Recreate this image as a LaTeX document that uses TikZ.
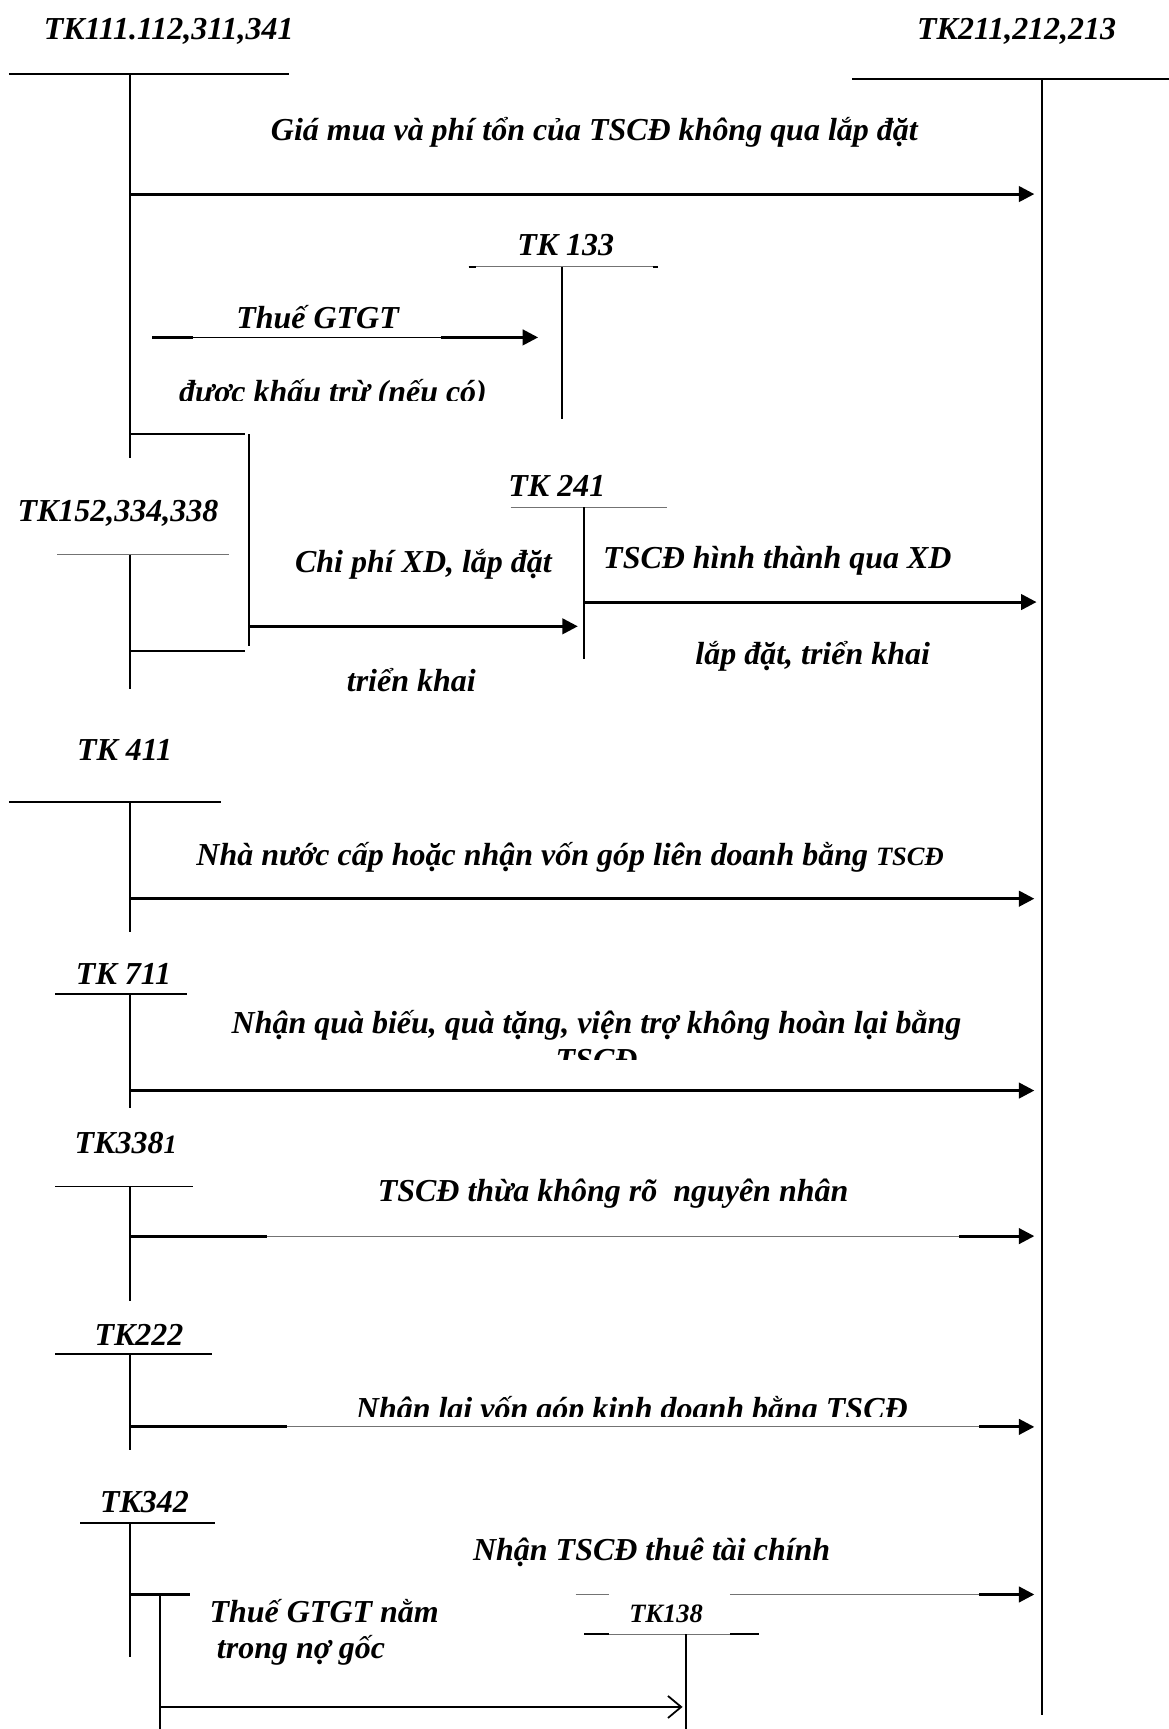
\documentclass[tikz,border=0pt]{standalone}
\usepackage{fontspec}
\setmainfont{Liberation Serif}
\usetikzlibrary{arrows.meta,positioning}

\tikzset{
  lbl/.style={font=\fontsize{14.5}{17}\selectfont\bfseries\itshape, anchor=base, inner sep=0pt},
  lblsmall/.style={lbl, font=\fontsize{12}{14}\selectfont\bfseries\itshape},
  tline/.style={line width=0.9pt},
  hair/.style={line width=0.45pt, black!55},
  flow/.style={line width=1.3pt, -{Triangle[length=7pt,width=7pt]}},
  openflow/.style={line width=1.1pt, -{Straight Barb[length=6pt,width=10pt,line width=0.8pt]}}
}

\begin{document}
\begin{tikzpicture}[x=0.5pt,y=-0.5pt]
    \useasboundingbox (0,0) rectangle (1060,1568);

    % main accounts
    \node[lbl] (n111) at (153,36) {TK111.112,311,341};
    \draw[tline] (8,67) -- (262,67);
    \draw[tline] (118,67) -- (118,415);
    \node[lbl] (n211) at (922,36) {TK211,212,213};
    \draw[tline] (773,72) -- (1060,72);
    \draw[tline] (945,72) -- (945,1555);

    \coordinate (a1s) at (118,176);
    \coordinate (a1e) at (938,176);
    \draw[flow] (a1s) -- (a1e);
    \node[lbl] (g1) at (539,127) {Giá mua và phí tổn của TSCĐ không qua lắp đặt};

    % TK 133
    \node[lbl] (n133) at (513,232) {TK 133};
    \draw[hair] (425,242) -- (597,242);
    \draw[tline] (425,242) -- (432,242) (592,242) -- (597,242);
    \draw[tline] (510,242) -- (510,380);
    \coordinate (a2s) at (138,306);
    \coordinate (a2m) at (400,306);
    \coordinate (a2e) at (488,306);
    \draw[hair,black] (a2s) -- (a2m);
    \draw[line width=1.3pt] (a2s) -- (175,306);
    \draw[flow] (a2m) -- (a2e);
    \node[lbl] (vat1) at (288,298) {Thuế GTGT};
    \begin{scope}
      \clip (100,330) rectangle (520,363);
      \node[lbl] (vat1b) at (302,365) {được khấu trừ (nếu có)};
    \end{scope}

    % TK152 and TK 241
    \draw[tline] (118,394) -- (222,394);
    \draw[tline] (226,394) -- (226,586);
    \draw[tline] (118,590) -- (222,590);
    \node[lbl] (n152) at (107,473) {TK152,334,338};
    \draw[hair] (52,503) -- (208,503);
    \draw[tline] (118,503) -- (118,625);
    \node[lbl] (n241) at (505,450) {TK 241};
    \draw[hair] (463,460) -- (605,460);
    \draw[tline] (530,460) -- (530,598);
    \coordinate (a3s) at (226,568);
    \coordinate (a3e) at (524,568);
    \draw[flow] (a3s) -- (a3e);
    \node[lbl] (c1) at (384,519) {Chi phí XD, lắp đặt};
    \node[lbl] (c2) at (373,627) {triển khai};
    \coordinate (a4s) at (530,546);
    \coordinate (a4e) at (940,546);
    \draw[flow] (a4s) -- (a4e);
    \node[lbl] (x1) at (705,516) {TSCĐ hình thành qua XD};
    \node[lbl] (x2) at (737,603) {lắp đặt, triển khai};

    % TK 411
    \node[lbl] (n411) at (113,690) {TK 411};
    \draw[tline] (8,727) -- (200,727);
    \draw[tline] (118,727) -- (118,845);
    \coordinate (a5s) at (118,815);
    \coordinate (a5e) at (938,815);
    \draw[flow] (a5s) -- (a5e);
    \node[lbl] (s411) at (517,785) {Nhà nước cấp hoặc nhận vốn góp liên doanh bằng {\fontsize{12}{14}\selectfont TSCĐ}};

    % TK 711
    \node[lbl] (n711) at (112,893) {TK 711};
    \draw[tline] (50,901) -- (170,901);
    \draw[tline] (118,901) -- (118,1005);
    \coordinate (a6s) at (118,989);
    \coordinate (a6e) at (938,989);
    \draw[flow] (a6s) -- (a6e);
    \node[lbl] (s711) at (541,937) {Nhận quà biếu, quà tặng, viện trợ không hoàn lại bằng};
    \begin{scope}
      \clip (480,945) rectangle (600,961);
      \node[lbl] (s711b) at (541,971) {TSCĐ};
    \end{scope}

    % TK3381
    \node[lbl] (n3381) at (114,1046) {TK338{\fontsize{12}{14}\selectfont 1}};
    \draw[tline] (50,1076) -- (175,1076);
    \draw[tline] (118,1076) -- (118,1180);
    \coordinate (a7s) at (118,1121);
    \coordinate (a7m) at (870,1121);
    \coordinate (a7e) at (938,1121);
    \draw[hair] (a7s) -- (a7m);
    \draw[line width=1.3pt] (a7s) -- (242,1121);
    \draw[flow] (a7m) -- (a7e);
    \node[lbl] (s3381) at (556,1090) {TSCĐ thừa không rõ~ nguyên nhân};

    % TK222
    \node[lbl] (n222) at (126,1220) {TK222};
    \draw[tline] (50,1228) -- (192,1228);
    \draw[tline] (118,1228) -- (118,1315);
    \coordinate (a8s) at (118,1294);
    \coordinate (a8m) at (888,1294);
    \coordinate (a8e) at (938,1294);
    \draw[hair] (a8s) -- (a8m);
    \draw[line width=1.3pt] (a8s) -- (260,1294);
    \draw[flow] (a8m) -- (a8e);
    \begin{scope}
      \clip (300,1250) rectangle (850,1285);
      \node[lbl] (s222) at (573,1287) {Nhận lại vốn góp kinh doanh bằng TSCĐ};
    \end{scope}

    % TK342 and TK138
    \node[lbl] (n342) at (131,1372) {TK342};
    \draw[tline] (73,1381) -- (195,1381);
    \draw[tline] (118,1381) -- (118,1503);
    \coordinate (a9s) at (118,1446);
    \coordinate (a9m) at (888,1446);
    \coordinate (a9e) at (938,1446);
    \draw[line width=1.3pt] (a9s) -- (172,1446);
    \draw[hair] (522,1446) -- (552,1446) (662,1446) -- (a9m);
    \draw[flow] (a9m) -- (a9e);
    \node[lbl] (s342) at (591,1415) {Nhận TSCĐ thuê tài chính};
    \draw[tline] (145,1446) -- (145,1568);
    \node[lbl] (v1) at (294,1471) {Thuế GTGT nằm};
    \node[lbl] (v2) at (273,1504) {trong nợ gốc};
    \node[lblsmall] (n138) at (604,1471) {TK138};
    \draw[hair] (552,1482) -- (662,1482);
    \draw[tline] (530,1482) -- (552,1482) (662,1482) -- (688,1482);
    \draw[tline] (622,1482) -- (622,1568);
    \coordinate (a10s) at (145,1548);
    \coordinate (a10e) at (619,1548);
    \draw[openflow] (a10s) -- (a10e);
\end{tikzpicture}
\end{document}
